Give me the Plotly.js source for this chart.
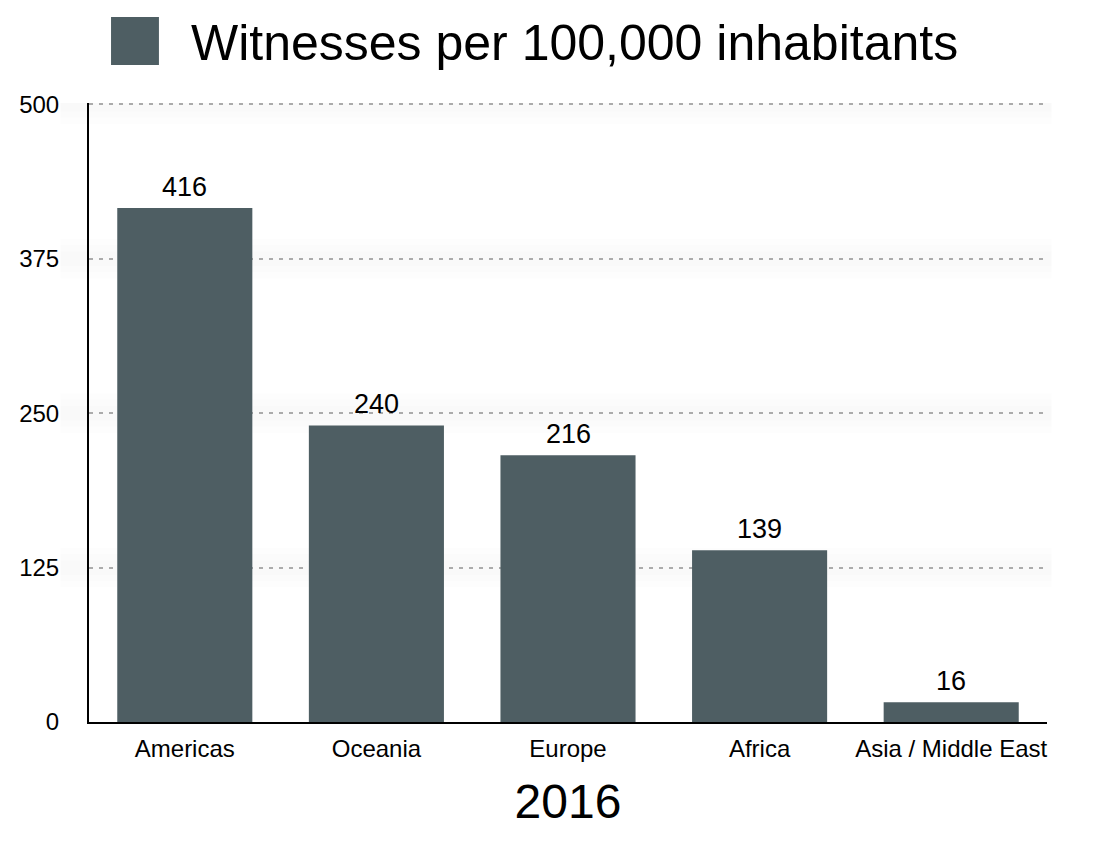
<!DOCTYPE html>
<html>
<head>
<meta charset="utf-8">
<script src="https://cdn.plot.ly/plotly-3.0.1.min.js"></script>
<style>html,body{margin:0;padding:0;background:#fff;}#chart{width:1114px;height:842px;}</style>
</head>
<body>
<div id="chart"></div>
<script>
const regions = ["Americas", "Oceania", "Europe", "Africa", "Asia / Middle East"];
const witnesses = [416, 240, 216, 139, 16];
const yTicks = [0, 125, 250, 375, 500];
const seriesName = "Witnesses per 100,000 inhabitants";
const xTitle = "2016";

const barColor = "#4e5e63";
const font = "Liberation Sans, Arial, Helvetica, sans-serif";

const valueLabels = regions.map((r, i) => ({
  x: r, y: witnesses[i], xref: "x", yref: "y",
  text: String(witnesses[i]), showarrow: false,
  yanchor: "bottom", yshift: 4,
  font: {family: font, size: 27, color: "#000"}
}));

// soft shadow bands around grid lines (decorative)
const bands = [];
yTicks.filter(v => v > 0).forEach(v => {
  [16, 11, 6].forEach(h => {
    bands.push({
      type: "rect", xref: "paper", yref: "y", layer: "below",
      x0: -0.03, x1: 1.005, y0: v - h, y1: v + h,
      fillcolor: "rgba(0,0,0,0.009)", line: {width: 0}
    });
  });
});

const data = [{
  type: "bar",
  x: regions,
  y: witnesses,
  name: seriesName,
  marker: {color: barColor},
  hoverinfo: "x+y"
}];

const layout = {
  width: 1114, height: 842,
  margin: {l: 89, r: 67, t: 103, b: 120, pad: 0},
  paper_bgcolor: "#fff", plot_bgcolor: "rgba(0,0,0,0)",
  showlegend: false,
  bargap: 0.295,
  font: {family: font, color: "#000"},
  xaxis: {
    type: "category",
    showline: true, linecolor: "#000", linewidth: 2,
    showgrid: false, zeroline: false, ticks: "",
    tickfont: {family: font, size: 24, color: "#000"},
    ticklabelstandoff: 4,
    title: {text: xTitle, font: {family: font, size: 48, color: "#000"}, standoff: 24}
  },
  yaxis: {
    range: [0, 501],
    tickvals: yTicks, ticktext: yTicks.map(String),
    showline: true, linecolor: "#000", linewidth: 2,
    showgrid: true, gridcolor: "#ababab", gridwidth: 2, griddash: "4px,6px",
    zeroline: false, ticks: "",
    tickfont: {family: font, size: 24, color: "#000"},
    ticklabelstandoff: 23
  },
  shapes: bands.concat([{
    type: "rect", xref: "paper", yref: "paper",
    x0: 0.023, x1: 0.073, y0: 1.0615, y1: 1.139,
    fillcolor: barColor, line: {width: 0}
  }]),
  annotations: valueLabels.concat([{
    xref: "paper", yref: "paper", x: 0.104, y: 1.097,
    xanchor: "left", yanchor: "middle", showarrow: false,
    text: seriesName,
    font: {family: font, size: 50, color: "#000"}
  }])
};

Plotly.newPlot("chart", data, layout, {displayModeBar: false, staticPlot: true});
</script>
</body>
</html>
